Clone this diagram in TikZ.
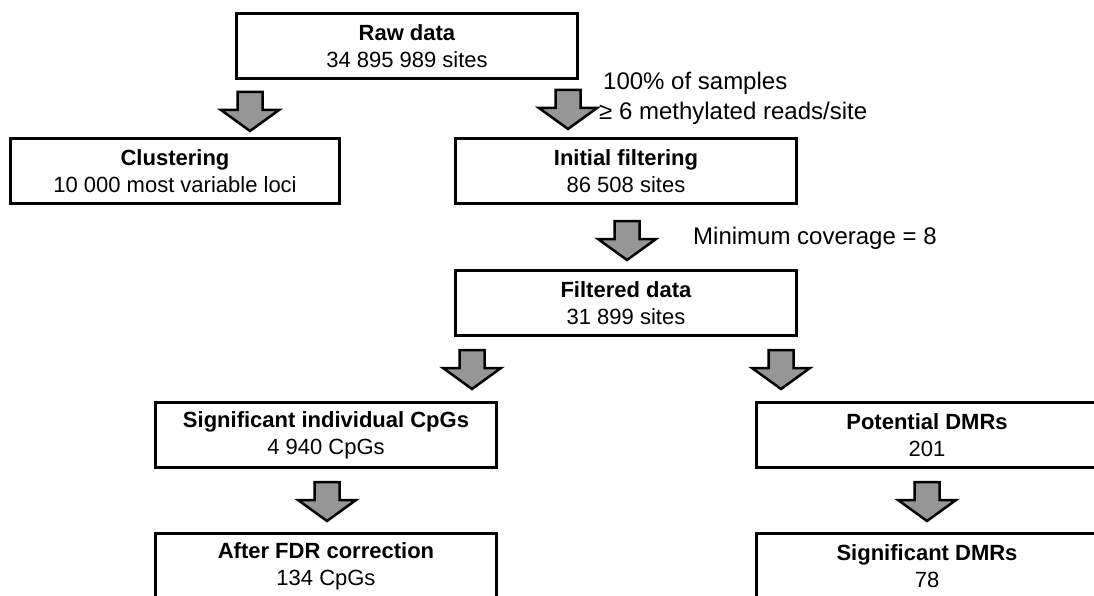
\documentclass[tikz,border=0pt]{standalone}
\usepackage{fontspec}
\setmainfont{Liberation Sans}
\usetikzlibrary{positioning}
\definecolor{arrowgray}{RGB}{150,150,150}
\tikzset{
 stepbox/.style={draw,line width=3pt,minimum width=341pt,minimum height=65pt,
  inner sep=0pt,align=center,font=\fontsize{22}{27}\selectfont},
 sidenote/.style={anchor=west,inner sep=0pt,font=\fontsize{24}{28}\selectfont},
 pics/flowarrow/.style={code={
  \draw[fill=arrowgray,line width=2.5pt,line join=miter]
   (-12.5,0)--(12.5,0)--(12.5,18)--(29,18)--(0,39)--(-29,18)--(-12.5,18)--cycle;}}
}

\begin{document}
\begin{tikzpicture}[x=1pt,y=-1pt]
\useasboundingbox (0,0) rectangle (1094,596);
% boxes
\node[stepbox] (raw) at (407,46.5) {\textbf{Raw data}\\34 895 989 sites};
\node[stepbox,minimum width=329pt] (clust) at (175,171) {\textbf{Clustering}\\10 000 most variable loci};
\node[stepbox] (init) at (626,171) {\textbf{Initial filtering}\\86 508 sites};
\node[stepbox] (filt) at (626,303) {\textbf{Filtered data}\\31 899 sites};
\node[stepbox] (sigcpg) at (326,435) {\textbf{Significant individual CpGs}\\4 940 CpGs};
\node[stepbox] (potdmr) at (927,435) {\textbf{Potential DMRs}\\201};
\node[stepbox] (fdr) at (326,566) {\textbf{After FDR correction}\\134 CpGs};
\node[stepbox] (sigdmr) at (927,566) {\textbf{Significant DMRs}\\78};
% arrows
\pic at (250,92) {flowarrow};
\pic at (568,90) {flowarrow};
\pic at (627,221) {flowarrow};
\pic at (472,350) {flowarrow};
\pic at (781,350) {flowarrow};
\pic at (327,482) {flowarrow};
\pic at (927,482) {flowarrow};
% filter notes
\node[sidenote] (pct) at (603,83) {100\% of samples};
\node[sidenote] (meth) at (599,113) {≥ 6 methylated reads/site};
\node[sidenote] (cov) at (693,238) {Minimum coverage = 8};
\end{tikzpicture}
\end{document}
